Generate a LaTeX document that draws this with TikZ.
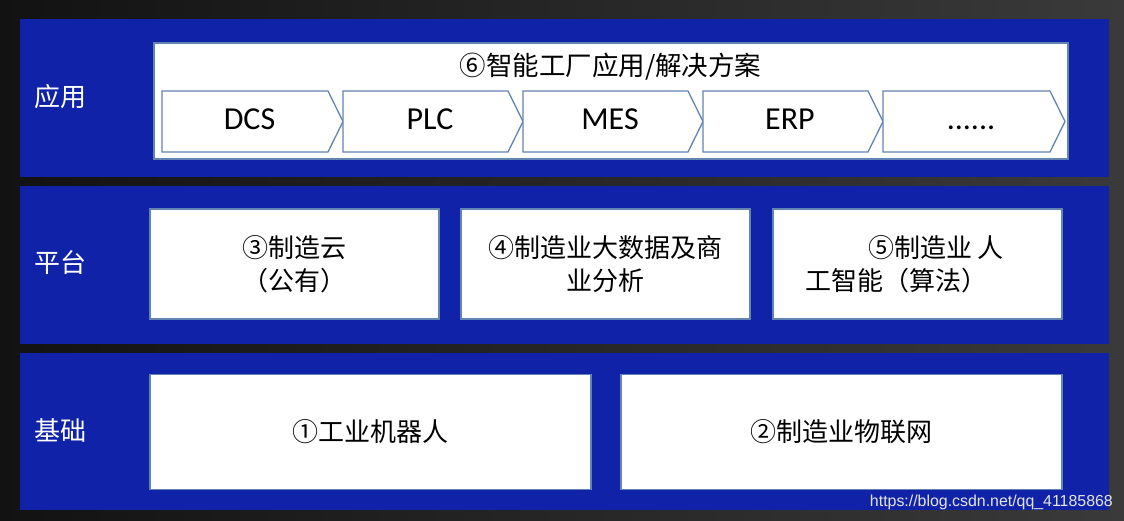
\documentclass[tikz,border=0pt]{standalone}
\usepackage{fontspec}
\setmainfont{Carlito}
\newfontfamily\cjk{Noto Sans CJK SC}
\newfontfamily\wmfont{Liberation Sans}
\definecolor{bgl}{RGB}{18,18,18}
\definecolor{bgr}{RGB}{58,58,58}
\definecolor{bandblue}{RGB}{16,35,168}
\definecolor{edge}{RGB}{98,132,178}
\newcommand\mysixdots{......}
\tikzset{
  band/.style={fill=bandblue},
  wbox/.style={draw=edge, line width=1.3pt, fill=white, inner sep=0pt, align=center,
               font=\cjk\fontsize{26}{33}\selectfont},
  chev/.style={draw=edge, line width=1.3pt, fill=white},
  chevtxt/.style={font=\fontsize{32}{36}\selectfont, anchor=base, inner sep=0pt},
  lbl/.style={text=white, font=\cjk\fontsize{26}{30}\selectfont, inner sep=0pt},
  ttl/.style={font=\cjk\fontsize{26.5}{30}\selectfont, inner sep=0pt}
}
\begin{document}
\begin{tikzpicture}[x=1pt,y=-1pt]
\shade[left color=bgl,right color=bgr] (0,0) rectangle (1124,521);
\useasboundingbox (0,0) rectangle (1124,521);
% bands
\fill[band] (20,19) rectangle (1109,177);
\fill[band] (20,186) rectangle (1109,344);
\fill[band] (20,353) rectangle (1109,510);
% layer labels
\node[lbl] (lapp) at (60,97) {应用};
\node[lbl] (lplat) at (60,263) {平台};
\node[lbl] (lbase) at (60,430) {基础};
% application layer
\node[wbox, minimum width=914pt, minimum height=116pt] (appbox) at (611,101) {};
\node[ttl] (apptitle) at (610.5,67) {⑥智能工厂应用/解决方案};
\foreach \l/\t/\name/\txt in {162/343/dcs/DCS,343/523/plc/PLC,523/703/mes/MES,703/883/erp/ERP,883/1065/more/\mysixdots}{
  \draw[chev] (\l,91) -- (\t-15,91) -- (\t,121.5) -- (\t-15,152) -- (\l,152) -- cycle;
  \node[chevtxt] (\name) at ({(\l+\t)/2-3},130) {\txt};
}
% platform layer
\node[wbox, minimum width=289pt, minimum height=110pt] (cloud) at (294.5,264) {③制造云\\（公有）};
\node[wbox, minimum width=289pt, minimum height=110pt] (bigdata) at (605.5,264) {④制造业大数据及商\\业分析};
\node[wbox, minimum width=289pt, minimum height=110pt] (ai) at (917.5,264)
  {\hspace*{37pt}⑤制造业 人\\工智能（算法）\hspace*{43pt}};
% base layer
\node[wbox, minimum width=441pt, minimum height=115pt] (robot) at (370.5,432) {①工业机器人};
\node[wbox, minimum width=441pt, minimum height=115pt] (iot) at (841.5,432) {②制造业物联网};
% watermark
\node[anchor=base east, inner sep=0pt, text=white!80!gray, font=\wmfont\fontsize{15.9}{18}\selectfont] (wm) at (1113,506) {https://blog.csdn.net/qq\_41185868};
\end{tikzpicture}
\end{document}
